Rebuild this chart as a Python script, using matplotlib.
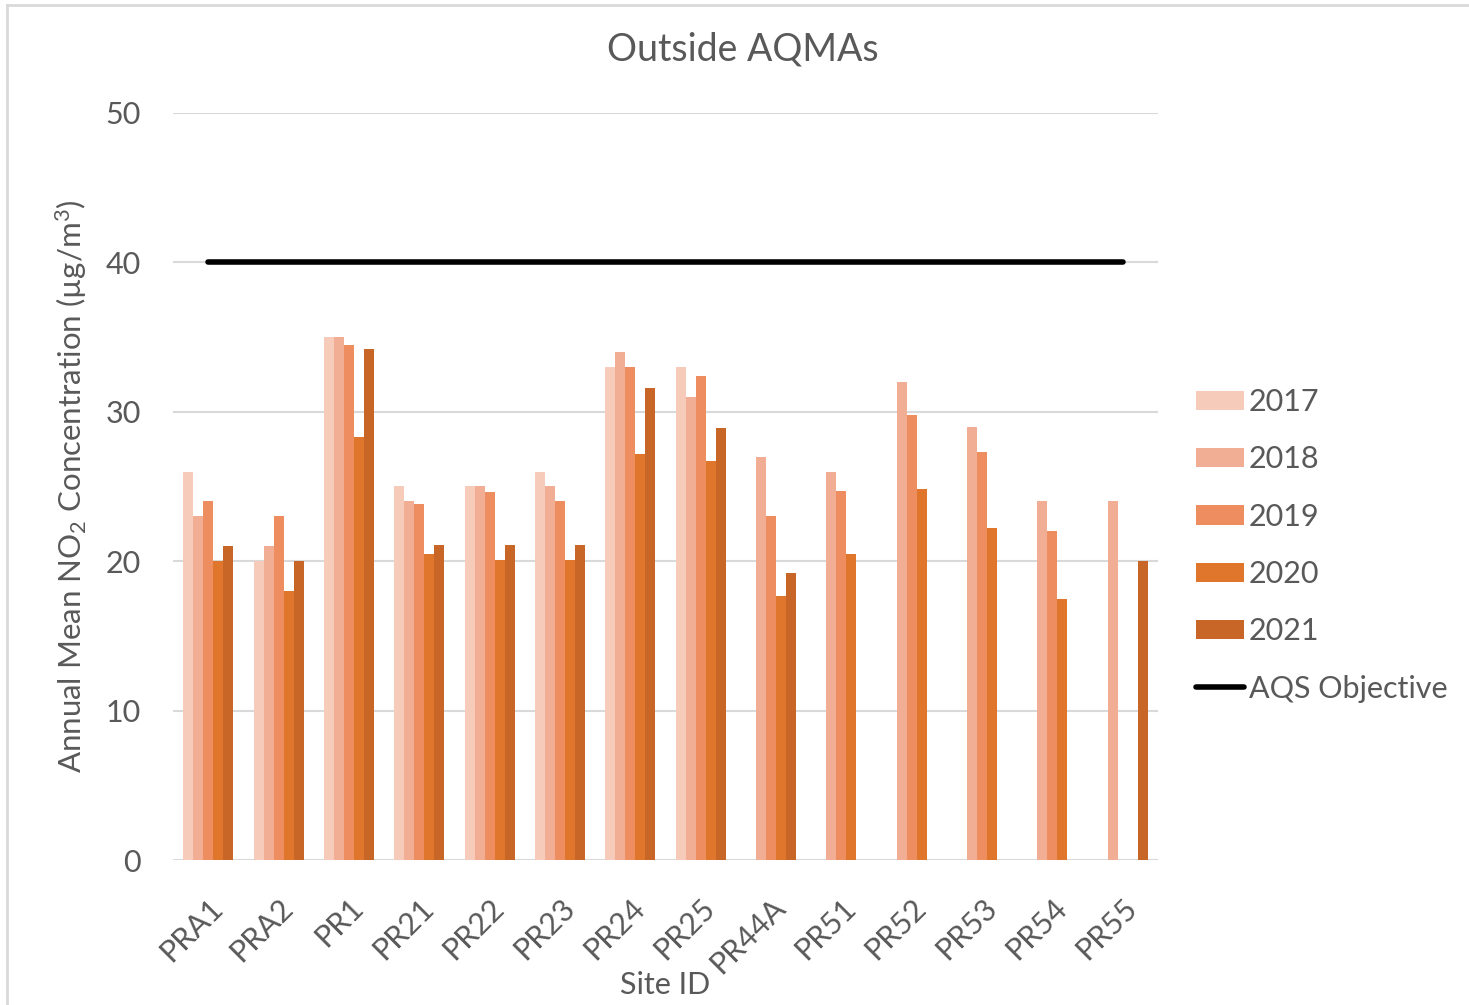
import numpy as np
import matplotlib
matplotlib.use("Agg")
import matplotlib.pyplot as plt
from matplotlib.lines import Line2D

plt.rcParams["font.family"] = ["Lato", "DejaVu Sans"]
plt.rcParams["mathtext.fontset"] = "custom"
plt.rcParams["mathtext.rm"] = "Lato"
plt.rcParams["mathtext.it"] = "Lato:italic"
plt.rcParams["mathtext.bf"] = "Lato:bold"

sites = ["PRA1", "PRA2", "PR1", "PR21", "PR22", "PR23", "PR24", "PR25",
         "PR44A", "PR51", "PR52", "PR53", "PR54", "PR55"]
years = ["2017", "2018", "2019", "2020", "2021"]
nan = np.nan
v2017 = [26, 20, 35, 25, 25, 26, 33, 33, nan, nan, nan, nan, nan, nan]
v2018 = [23, 21, 35, 24, 25, 25, 34, 31, 27, 26, 32, 29, 24, 24]
v2019 = [24, 23, 34.5, 23.8, 24.6, 24, 33, 32.4, 23, 24.7, 29.8, 27.3, 22, nan]
v2020 = [20, 18, 28.3, 20.5, 20.1, 20.1, 27.2, 26.7, 17.7, 20.5, 24.8, 22.2, 17.5, nan]
v2021 = [21, 20, 34.2, 21.1, 21.1, 21.1, 31.6, 28.9, 19.2, nan, nan, nan, nan, 20]
objective = 40

series = [v2017, v2018, v2019, v2020, v2021]
colors = ["#F6CBBA", "#F1AE94", "#EE8D5F", "#E0762C", "#C86628"]
text_color = "#595959"
grid_color = "#D9D9D9"

W, H = 1469, 1005
fig = plt.figure(figsize=(W / 100, H / 100), dpi=100)
ax = fig.add_axes([173 / W, 145 / H, 985 / W, 747 / H])

x = np.arange(len(sites))
bw = 0.142
for i, (vals, col, yr) in enumerate(zip(series, colors, years)):
    ax.bar(x + (i - 2) * bw, vals, width=bw, color=col, label=yr, zorder=2)

ax.plot(x, [objective] * len(sites), color="black", lw=4, solid_capstyle="round",
        zorder=3, label="AQS Objective")

ax.set_xlim(-0.5, len(sites) - 0.5)
ax.set_ylim(0, 50)
ax.set_yticks(range(0, 51, 10))
ax.yaxis.grid(True, color=grid_color, lw=1.5, zorder=0)
ax.set_axisbelow(True)
for s in ax.spines.values():
    s.set_visible(False)
ax.tick_params(axis="both", length=0, labelsize=22, colors=text_color)
ax.tick_params(axis="y", pad=23)
ax.set_xticks(x)
ax.set_xticklabels(sites, rotation=45, ha="right", rotation_mode="anchor")
ax.tick_params(axis="x", pad=24)

fig.text(743 / W, 1 - 50 / H, "Outside AQMAs", fontsize=27, color=text_color,
         ha="center", va="center")
ax.set_xlabel("Site ID", fontsize=22, color=text_color, va="center")
ax.xaxis.set_label_coords(0.5, (860 - 985) / 747)
ax.set_ylabel("Annual Mean NO$_2$ Concentration (µg/m$^3$)", fontsize=22.5,
              color=text_color, labelpad=12)

handles, labels = ax.get_legend_handles_labels()
handles = handles[1:] + handles[:1]
labels = labels[1:] + labels[:1]
leg = fig.legend(handles, labels, loc="upper left",
                 bbox_to_anchor=(1196 / W, 1 - 388 / H),
                 frameon=False, fontsize=22, labelcolor=text_color,
                 handlelength=1.57, handleheight=0.6, handletextpad=0.15,
                 labelspacing=0.96, borderpad=0, borderaxespad=0)

# light frame around the chart area
fig.add_artist(Line2D([7 / W, 1], [1 - 5 / H] * 2, color=grid_color, lw=2,
                      transform=fig.transFigure))
fig.add_artist(Line2D([7 / W] * 2, [0, 1 - 5 / H], color=grid_color, lw=2,
                      transform=fig.transFigure))

fig.savefig("out.png", dpi=100, facecolor="white")
